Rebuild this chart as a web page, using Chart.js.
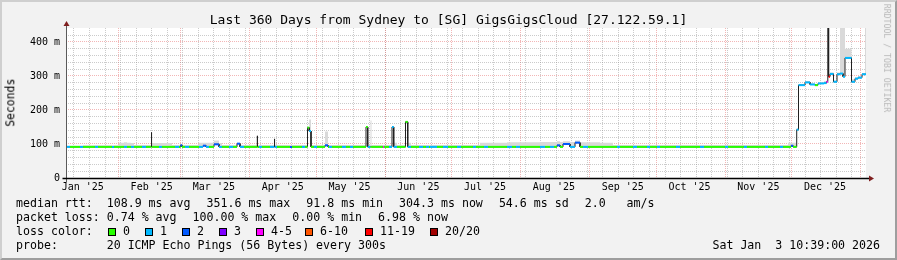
<!DOCTYPE html>
<html><head><meta charset="utf-8">
<script src="https://cdn.jsdelivr.net/npm/chart.js@4.4.1/dist/chart.umd.min.js"></script>
<style>
html,body{margin:0;padding:0;background:#f2f2f2;}
#wrap{position:relative;width:897px;height:260px;overflow:hidden;background:#f2f2f2;font-family:"DejaVu Sans Mono",monospace;color:#000;}
#c{position:absolute;left:0;top:0;}
.t{position:absolute;white-space:pre;line-height:1;}
.lg{position:absolute;white-space:pre;line-height:1;font-size:11.6px;}
.sw{position:absolute;width:8px;height:8px;box-sizing:border-box;border:1px solid #000;}
.frame{position:absolute;left:0;top:0;width:897px;height:260px;box-sizing:border-box;border-style:solid;border-width:2px;border-color:#cfcfcf #9e9e9e #9e9e9e #cfcfcf;pointer-events:none;}
</style></head>
<body><div id="wrap">
<canvas id="c" width="897" height="260"></canvas>
<div class="t" style="left:0;width:897px;text-align:center;top:13px;font-size:13px;">Last 360 Days from Sydney to [SG] GigsGigsCloud [27.122.59.1]</div>
<div class="t" style="left:-19.2px;width:60px;text-align:center;top:97.3px;height:11.4px;font-size:11.4px;transform:rotate(-90deg);">Seconds</div>
<div class="t" style="left:826.7px;width:120px;text-align:center;top:54.4px;height:8.2px;font-size:8.2px;color:#b8b8b8;transform:rotate(90deg);">RRDTOOL / TOBI OETIKER</div>

<div class="lg" style="left:16px;top:198px;">median rtt:  108.9 ms avg</div>
<div class="lg" style="left:206.5px;top:198px;">351.6 ms max</div>
<div class="lg" style="left:306.3px;top:198px;">91.8 ms min</div>
<div class="lg" style="left:399.1px;top:198px;">304.3 ms now</div>
<div class="lg" style="left:498.9px;top:198px;">54.6 ms sd</div>
<div class="lg" style="left:584.7px;top:198px;">2.0   am/s</div>

<div class="lg" style="left:16px;top:211.9px;">packet loss: 0.74 % avg</div>
<div class="lg" style="left:192.5px;top:211.9px;">100.00 % max</div>
<div class="lg" style="left:292.3px;top:211.9px;">0.00 % min</div>
<div class="lg" style="left:378.1px;top:211.9px;">6.98 % now</div>

<div class="lg" style="left:16px;top:225.8px;">loss color:</div>
<div id="lossLegend"></div>

<div class="lg" style="left:16px;top:239.7px;">probe:</div>
<div class="lg" style="left:106.7px;top:239.7px;">20 ICMP Echo Pings (56 Bytes) every 300s</div>
<div class="lg" style="right:17px;top:239.7px;">Sat Jan  3 10:39:00 2026</div>
<div class="frame"></div>
</div>
<script>
// ---- data (x in days since start of graph, Jan 8 2025 10:39) ----
const xMax = 360;
const yMax = 441;
const lossColors = ['#26ff00','#00b8ff','#0059ff','#7e00ff','#ff00ff','#ff5500','#ff0000','#a10000'];
const lossLabels = ['0','1','2','3','4-5','6-10','11-19','20/20'];
const monthLabels = ["Jan '25","Feb '25","Mar '25","Apr '25","May '25","Jun '25","Jul '25","Aug '25","Sep '25","Oct '25","Nov '25","Dec '25"];

// start day of each median run (each run lasts until the next one starts)
const runStart = [
0.00,1.80,6.30,7.65,13.05,14.40,20.70,21.60,23.85,26.10,
27.45,29.25,30.60,34.20,36.00,38.25,38.61,41.85,43.20,47.70,
49.05,50.85,51.53,52.20,53.55,55.35,59.85,61.65,63.00,64.35,
66.60,68.85,70.20,73.35,75.15,76.95,78.30,80.10,85.95,86.22,
86.85,88.20,91.80,93.60,93.96,94.95,100.80,101.70,106.20,107.55,
108.68,109.44,110.25,111.60,112.95,116.55,117.90,118.35,119.70,124.20,
126.00,127.80,129.15,135.00,135.77,137.03,137.48,142.65,143.10,145.35,
146.70,147.47,148.95,152.78,153.77,155.25,158.85,160.65,162.00,163.35,
163.80,166.95,169.65,171.90,175.95,177.75,183.15,184.50,186.30,188.10,
189.90,198.45,200.70,202.50,204.30,213.30,215.55,217.80,219.60,220.95,
222.30,223.65,226.80,229.05,231.30,232.65,234.90,240.30,246.15,247.95,
249.30,255.15,256.95,261.45,262.80,265.95,267.30,274.50,276.30,285.30,
287.10,296.55,297.90,305.10,306.45,314.55,315.90,321.30,322.65,324.90,
326.25,327.15,328.82,329.63,332.55,334.80,337.05,338.40,341.10,342.23,
342.81,343.17,343.80,345.38,346.95,348.30,349.65,350.55,353.48,355.05,
356.40,358.20,359.55];

// median rtt of each run (ms)
const runMedian = [
91.5,91.5,91.5,91.5,91.5,91.5,91.5,91.5,91.5,91.5,
91.5,91.5,91.5,91.5,91.5,134,91.5,91.5,91.5,91.5,
91.5,91.5,96,91.5,91.5,91.5,91.5,95,91.5,91.5,
99,91.5,91.5,91.5,91.5,101,91.5,91.5,124,91.5,
91.5,91.5,91.5,115,91.5,91.5,91.5,91.5,91.5,91.5,
148,138,91.5,91.5,91.5,96,91.5,91.5,91.5,91.5,
91.5,91.5,91.5,150,91.5,91.5,91.5,91.5,91.5,91.5,
150,91.5,91.5,165,91.5,91.5,91.5,91.5,91.5,91.5,
91.5,91.5,91.5,91.5,91.5,91.5,91.5,91.5,91.5,91.5,
91.5,91.5,91.5,91.5,91.5,91.5,91.5,91.5,91.5,96,
91.5,100,91.5,104,91.5,91.5,91.5,91.5,91.5,91.5,
91.5,91.5,91.5,91.5,91.5,91.5,91.5,91.5,91.5,91.5,
91.5,91.5,91.5,91.5,91.5,91.5,91.5,91.5,91.5,91.5,
95,91.5,142,273,281,275,273,278,279,283,
446,298,306,283,305,307,298,353,283,292,
295,305,305];

// loss colour bucket of each run (index into lossColors)
const runLoss = [
1,0,1,0,1,0,1,0,0,1,
0,1,0,1,0,1,0,1,0,0,
1,0,2,0,1,0,1,2,1,0,
2,1,0,1,0,2,1,0,0,0,
1,0,1,0,1,0,2,0,1,0,
0,1,0,1,0,2,0,1,0,1,
0,1,0,0,1,0,0,4,0,1,
1,1,0,0,1,0,1,0,1,0,
1,0,1,0,1,0,1,0,0,1,
0,1,0,1,0,1,0,1,0,2,
0,2,1,2,0,1,0,0,0,1,
0,1,0,1,0,1,0,1,0,1,
0,1,0,1,0,1,0,1,0,0,
2,0,1,1,1,1,0,1,1,4,
0,6,1,1,1,1,1,1,1,1,
1,1,1];

// top of the smoke (slowest ping) of each run (ms)
const runSmoke = [
95,95,95,96,96,96,96,96,104,105,
104,103,97,97,97,136,103,103,103,97,
97,97,100,97,97,97,104,104,104,104,
110,103,97,97,97,103,97,97,125,97,
97,97,97,116,97,97,97,97,97,97,
150,172,97,97,97,137,97,97,97,97,
97,97,97,152,97,169,97,97,97,97,
152,104,97,167,104,97,97,97,97,97,
97,97,97,97,97,97,97,97,104,104,
104,105,105,105,105,106,106,106,106,108,
106,108,106,110,105,105,105,104,97,97,
97,97,97,97,97,97,97,97,97,97,
97,97,97,97,97,97,97,97,97,104,
104,104,146,276,285,278,276,281,285,286,
446,305,310,287,310,446,446,380,290,296,
300,308,446];

// ---- build point lists from the runs ----
const medPts = [], bandPts = [], smokePts = [];
for (let i = 0; i < runStart.length; i++) {
  const s = runStart[i], e = i + 1 < runStart.length ? runStart[i + 1] : xMax;
  medPts.push({x: s, y: runMedian[i]}, {x: e, y: runMedian[i]});
  smokePts.push({x: s, y: runSmoke[i]}, {x: e, y: runSmoke[i]});
  bandPts.push({x: s, y: runMedian[i], l: runLoss[i]}, {x: e, y: runMedian[i], l: runLoss[i]}, {x: e, y: null, l: 0});
}

// ---- time ticks ----
const DAY = 86400000;
const startMs = Date.UTC(2025, 0, 8, 10, 39);
const dayOf = (y, m, d) => (Date.UTC(y, m, d) - startMs) / DAY;
function buildXTicks() {
  const t = [];
  for (let v = dayOf(2025, 0, 12); v <= xMax; v += 7) t.push({value: v, kind: 'week', text: ''});
  for (let m = 1; m <= 12; m++) { const v = dayOf(2025, m, 1); if (v >= 0 && v <= xMax) t.push({value: v, kind: 'month', text: ''}); }
  for (let m = 0; m < 12; m++) { const v = dayOf(2025, m, 1) + 15; if (v >= 0 && v <= xMax) t.push({value: v, kind: 'label', text: monthLabels[m]}); }
  return t;
}

// ---- loss legend ----
const swX = [108, 145, 182, 219, 256, 305, 365, 430];
const lg = document.getElementById('lossLegend');
lossLabels.forEach((lab, i) => {
  const b = document.createElement('div'); b.className = 'sw';
  b.style.left = swX[i] + 'px'; b.style.top = '228px'; b.style.background = lossColors[i];
  lg.appendChild(b);
  const t = document.createElement('div'); t.className = 'lg';
  t.style.left = (swX[i] + 15) + 'px'; t.style.top = '225.8px';
  t.textContent = lab; lg.appendChild(t);
});

const GRID = 'rgba(140,140,140,0.45)';
const MGRID = 'rgba(225,80,80,0.42)';

const deco = {
  id: 'deco',
  beforeDraw(chart) {
    const {ctx, chartArea: a} = chart;
    ctx.save(); ctx.fillStyle = '#ffffff';
    ctx.fillRect(a.left, a.top, a.right - a.left, a.bottom - a.top);
    ctx.restore();
  },
  afterDraw(chart) {
    const {ctx, chartArea: a} = chart;
    const y0 = Math.round(chart.scales.y.getPixelForValue(0)) + 0.5;
    const x0 = Math.round(a.left) + 0.5;
    ctx.save();
    ctx.lineWidth = 1;
    ctx.strokeStyle = '#5a5a5a';
    ctx.beginPath(); ctx.moveTo(x0, y0 + 4); ctx.lineTo(x0, a.top - 3); ctx.stroke();
    ctx.strokeStyle = '#000000';
    ctx.lineWidth = 1.5;
    ctx.beginPath(); ctx.moveTo(x0 - 4, y0); ctx.lineTo(a.right + 3, y0); ctx.stroke();
    ctx.fillStyle = '#7f1f1f';
    ctx.beginPath(); ctx.moveTo(x0, a.top - 7); ctx.lineTo(x0 - 3, a.top - 2); ctx.lineTo(x0 + 3, a.top - 2); ctx.closePath(); ctx.fill();
    ctx.beginPath(); ctx.moveTo(a.right + 8, y0); ctx.lineTo(a.right + 3, y0 - 3); ctx.lineTo(a.right + 3, y0 + 3); ctx.closePath(); ctx.fill();
    ctx.restore();
  }
};

Chart.defaults.color = '#000';
Chart.defaults.font.family = '"DejaVu Sans Mono", monospace';

new Chart(document.getElementById('c'), {
  type: 'line',
  data: {
    datasets: [
      { label: 'loss', data: bandPts, order: 0, borderWidth: 2, borderColor: lossColors[0], spanGaps: false,
        pointRadius: 0, fill: false, borderCapStyle: 'butt',
        segment: { borderColor: c => lossColors[bandPts[c.p0DataIndex].l] } },
      { label: 'median', data: medPts, order: 1, borderWidth: 1, borderColor: '#202020', pointRadius: 0, fill: false },
      { label: 'smoke', data: smokePts, order: 2, borderWidth: 0, borderColor: 'rgba(0,0,0,0)',
        backgroundColor: '#d9d9d9', pointRadius: 0, fill: 1 }
    ]
  },
  options: {
    responsive: false, animation: false, devicePixelRatio: 1,
    layout: { padding: { left: 0, top: 28, right: 31, bottom: 0 } },
    plugins: { legend: { display: false }, tooltip: { enabled: false } },
    scales: {
      x: {
        type: 'linear', min: 0, max: xMax,
        afterFit: s => { s.height = 82; },
        afterBuildTicks: s => { s.ticks = buildXTicks(); },
        grid: { drawTicks: false,
          color: c => !c.tick ? 'rgba(0,0,0,0)' : (c.tick.kind === 'month' ? MGRID : (c.tick.kind === 'week' ? GRID : 'rgba(0,0,0,0)')) },
        border: { display: false, dash: [1, 1] },
        ticks: { autoSkip: false, maxRotation: 0, minRotation: 0, padding: 3.5, font: { size: 10 },
          callback: (v, i, t) => t[i].text }
      },
      y: {
        type: 'linear', min: 0, max: yMax,
        afterFit: s => { s.width = 66; },
        afterBuildTicks: s => { s.ticks = s.ticks.filter(t => Math.abs(t.value % 20) < 1e-6 && t.value <= 440); },
        grid: { drawTicks: false,
          color: c => !c.tick || c.tick.value === 0 ? 'rgba(0,0,0,0)' : (c.tick.value % 100 === 0 ? MGRID : GRID) },
        border: { display: false, dash: [1, 1] },
        ticks: { stepSize: 20, autoSkip: false, padding: 6, font: { size: 10 },
          callback: v => v === 0 ? '0' : (v % 100 === 0 ? v + ' m' : '') }
      }
    }
  },
  plugins: [deco]
});
</script>
</body></html>
